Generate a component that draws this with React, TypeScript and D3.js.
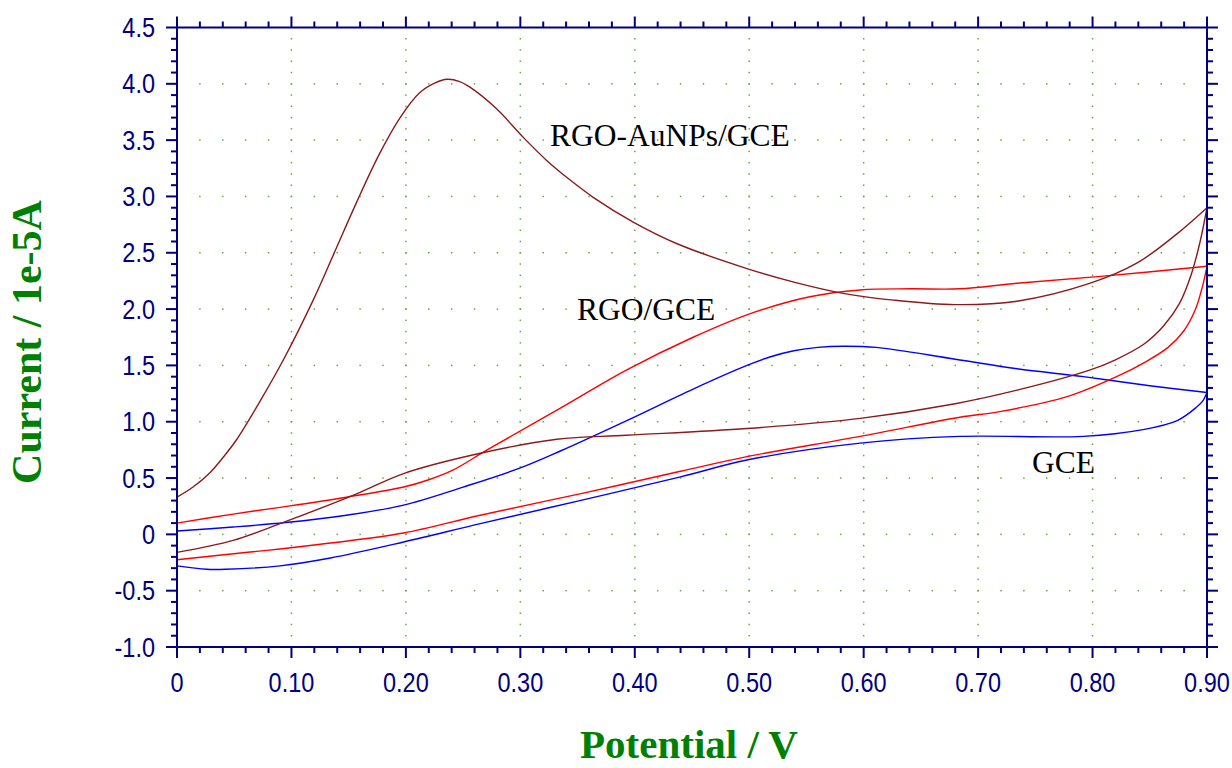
import React from "react";
import * as d3 from "d3";

// ---- data (V, current in 1e-5 A) ----
const auAnodic: [number, number][] = [
  [0, 0.33], [0.014, 0.42], [0.029, 0.55], [0.04, 0.68], [0.052, 0.84], [0.073, 1.19],
  [0.093, 1.55], [0.119, 2.08], [0.137, 2.49], [0.157, 2.95], [0.177, 3.38], [0.195, 3.7],
  [0.212, 3.92], [0.226, 4.01], [0.236, 4.04], [0.247, 4.02], [0.256, 3.97], [0.279, 3.78],
  [0.303, 3.52], [0.323, 3.32], [0.343, 3.15], [0.364, 2.99], [0.399, 2.77], [0.437, 2.58],
  [0.498, 2.36], [0.539, 2.24], [0.582, 2.14], [0.626, 2.08], [0.68, 2.04], [0.734, 2.07],
  [0.798, 2.23], [0.839, 2.41], [0.874, 2.67], [0.9, 2.9],
];
const auCathodic: [number, number][] = [
  [0.9, 2.9], [0.894, 2.6], [0.886, 2.3], [0.876, 2.05], [0.862, 1.85], [0.845, 1.69],
  [0.82, 1.55], [0.798, 1.46], [0.734, 1.28], [0.68, 1.16], [0.597, 1.03], [0.498, 0.94],
  [0.393, 0.88], [0.332, 0.845], [0.265, 0.72], [0.198, 0.54], [0.157, 0.36], [0.09, 0.095],
  [0.049, -0.053], [0, -0.16],
];
const rgoAnodic: [number, number][] = [
  [0, 0.1], [0.049, 0.18], [0.09, 0.24], [0.148, 0.33], [0.198, 0.42], [0.22, 0.485],
  [0.241, 0.57], [0.271, 0.75], [0.335, 1.12], [0.393, 1.46], [0.451, 1.75], [0.501, 1.96],
  [0.553, 2.11], [0.597, 2.17], [0.641, 2.18], [0.684, 2.18], [0.734, 2.23], [0.807, 2.29],
  [0.9, 2.38],
];
const rgoCathodic: [number, number][] = [
  [0.9, 2.38], [0.896, 2.2], [0.89, 2.0], [0.88, 1.81], [0.866, 1.66], [0.846, 1.53],
  [0.821, 1.4], [0.777, 1.22], [0.719, 1.09], [0.684, 1.04], [0.597, 0.87], [0.498, 0.69],
  [0.44, 0.56], [0.352, 0.36], [0.265, 0.17], [0.198, 0.012], [0.134, -0.077], [0.09, -0.13],
  [0.064, -0.157], [0, -0.225],
];
const gceAnodic: [number, number][] = [
  [0, 0.03], [0.049, 0.065], [0.095, 0.105], [0.148, 0.17], [0.198, 0.26], [0.25, 0.42],
  [0.3, 0.59], [0.335, 0.74], [0.393, 1.01], [0.451, 1.29], [0.498, 1.5], [0.518, 1.575],
  [0.539, 1.63], [0.56, 1.66], [0.582, 1.67], [0.611, 1.66], [0.68, 1.555], [0.734, 1.47],
  [0.792, 1.4], [0.85, 1.32], [0.9, 1.26],
];
const gceCathodic: [number, number][] = [
  [0.9, 1.26], [0.896, 1.18], [0.891, 1.13], [0.874, 1.01], [0.844, 0.93], [0.792, 0.87],
  [0.684, 0.87], [0.597, 0.81], [0.498, 0.66], [0.44, 0.51], [0.352, 0.3], [0.265, 0.095],
  [0.198, -0.068], [0.134, -0.21], [0.09, -0.28], [0.043, -0.31], [0.026, -0.31], [0, -0.28],
];

const xTickValues = [0, 0.1, 0.2, 0.3, 0.4, 0.5, 0.6, 0.7, 0.8, 0.9];
const xTickLabels = ["0", "0.10", "0.20", "0.30", "0.40", "0.50", "0.60", "0.70", "0.80", "0.90"];
const yTickValues = [-1, -0.5, 0, 0.5, 1, 1.5, 2, 2.5, 3, 3.5, 4, 4.5];
const yTickLabels = ["-1.0", "-0.5", "0", "0.5", "1.0", "1.5", "2.0", "2.5", "3.0", "3.5", "4.0", "4.5"];

const seriesList = [
  { name: "GCE", color: "#0000ff", branches: [gceAnodic, gceCathodic] },
  { name: "RGO/GCE", color: "#ff0000", branches: [rgoAnodic, rgoCathodic] },
  { name: "RGO-AuNPs/GCE", color: "#8b1a1a", branches: [auAnodic, auCathodic] },
];

const curveLabels = [
  { text: "RGO-AuNPs/GCE", x: 550, y: 146 },
  { text: "RGO/GCE", x: 577, y: 320 },
  { text: "GCE", x: 1032, y: 473 },
];

export default function App() {
  const W = 1232;
  const H = 768;
  const x = d3.scaleLinear().domain([0, 0.9]).range([177, 1207]);
  const y = d3.scaleLinear().domain([-1, 4.5]).range([647, 27.5]);
  const axisColor = "#000080";
  const gridColor = "#6aaa3a";

  const line = d3
    .line<[number, number]>()
    .x((d) => x(d[0]))
    .y((d) => y(d[1]))
    .curve(d3.curveCatmullRom.alpha(0.5));

  const xMinor = d3.range(0, 0.9001, 0.02);
  const yMinor = d3.range(-1, 4.5001, 0.1);

  const dots: JSX.Element[] = [];
  xTickValues.slice(1, -1).forEach((xv, i) => {
    yMinor.slice(1, -1).forEach((yv, j) => {
      dots.push(<rect key={`v${i}-${j}`} x={x(xv) - 0.75} y={y(yv) - 0.75} width={1.5} height={1.5} fill={gridColor} />);
    });
  });
  yTickValues.slice(1, -1).forEach((yv, i) => {
    xMinor.slice(1, -1).forEach((xv, j) => {
      dots.push(<rect key={`h${i}-${j}`} x={x(xv) - 0.75} y={y(yv) - 0.75} width={1.5} height={1.5} fill={gridColor} />);
    });
  });

  const isMajorX = (v: number) => Math.abs(v * 10 - Math.round(v * 10)) < 1e-6;
  const isMajorY = (v: number) => Math.abs(v * 2 - Math.round(v * 2)) < 1e-6;

  const x0 = x(0), x1 = x(0.9), yb = y(-1), yt = y(4.5);

  return (
    <svg width={W} height={H} style={{ position: "absolute", left: 0, top: 0, background: "#fff" }}>
      <rect x={0} y={0} width={W} height={H} fill="#fff" />
      <g>{dots}</g>

      {seriesList.map((s) =>
        s.branches.map((b, k) => (
          <path
            key={`${s.name}-${k}`}
            d={line(b) || ""}
            fill="none"
            stroke={s.color}
            strokeWidth={1.4}
            strokeLinejoin="round"
          />
        ))
      )}

      <g stroke={axisColor} strokeWidth={2}>
        <line x1={x0} y1={yb} x2={x1} y2={yb} />
        <line x1={x0} y1={yt} x2={x1} y2={yt} />
        <line x1={x0} y1={yb} x2={x0} y2={yt} />
        <line x1={x1} y1={yb} x2={x1} y2={yt} />
        {xMinor.map((v, i) => {
          const len = isMajorX(v) ? 11 : 6;
          return (
            <g key={`xt${i}`}>
              <line x1={x(v)} y1={yb} x2={x(v)} y2={yb + len} />
              <line x1={x(v)} y1={yt} x2={x(v)} y2={yt - len} />
            </g>
          );
        })}
        {yMinor.map((v, i) => {
          const len = isMajorY(v) ? 11 : 6;
          return (
            <g key={`yt${i}`}>
              <line x1={x0} y1={y(v)} x2={x0 - len} y2={y(v)} />
              <line x1={x1} y1={y(v)} x2={x1 + len} y2={y(v)} />
            </g>
          );
        })}
      </g>

      <g fill={axisColor} fontFamily="'Liberation Sans', Arial, sans-serif" fontSize={28}>
        {xTickValues.map((v, i) => (
          <text key={`xl${i}`} textAnchor="middle" transform={`translate(${x(v)},${yb + 45}) scale(0.84,1)`}>
            {xTickLabels[i]}
          </text>
        ))}
        {yTickValues.map((v, i) => (
          <text key={`yl${i}`} textAnchor="end" transform={`translate(155,${y(v) + 9.5}) scale(0.84,1)`}>
            {yTickLabels[i]}
          </text>
        ))}
      </g>

      <g fill="#000" fontFamily="'Liberation Serif', 'Times New Roman', serif" fontSize={31.5}>
        {curveLabels.map((l) => (
          <text key={l.text} x={l.x} y={l.y}>
            {l.text}
          </text>
        ))}
      </g>

      <text x={689} y={758} textAnchor="middle" fill="#008000" fontFamily="'Liberation Serif', 'Times New Roman', serif" fontWeight="bold" fontSize={41}>
        Potential / V
      </text>
      <text transform="translate(41,342) rotate(-90)" textAnchor="middle" fill="#008000" fontFamily="'Liberation Serif', 'Times New Roman', serif" fontWeight="bold" fontSize={42}>
        Current / 1e-5A
      </text>
    </svg>
  );
}
